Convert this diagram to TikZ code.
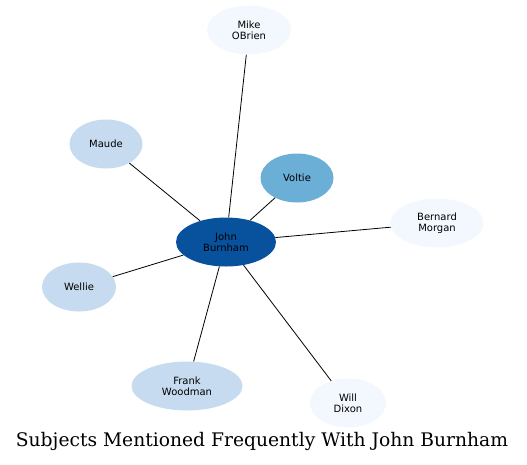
\documentclass[tikz,border=0pt]{standalone}
\usepackage{fontspec}
\setmainfont{DejaVu Serif}
\newfontfamily\namefont{DejaVu Sans}
\usetikzlibrary{shapes.geometric}
\definecolor{bluedark}{HTML}{08519C}
\definecolor{bluemid}{HTML}{6BAED6}
\definecolor{bluelight}{HTML}{C6DBEF}
\definecolor{bluepale}{HTML}{F3F7FE}

\begin{document}
\begin{tikzpicture}[x=1pt,y=-1pt,
    subject/.style={ellipse,draw=none,inner sep=0pt,minimum height=49pt,
      align=center,font=\namefont\fontsize{10}{10.8}\selectfont},
    link/.style={black,line width=0.8pt}]
    \useasboundingbox (0,0) rectangle (527,464);
    % centre and the people around it
    \node[subject,fill=bluedark,minimum width=100pt] (jb) at (226,242) {John\\Burnham};
    \node[subject,fill=bluepale,minimum width=84pt] (mo) at (249,30) {Mike\\OBrien};
    \node[subject,fill=bluelight,minimum width=73pt] (ma) at (106,144) {Maude};
    \node[subject,fill=bluemid,minimum width=73pt] (vo) at (297,178) {Voltie};
    \node[subject,fill=bluepale,minimum width=93pt] (bm) at (437,223) {Bernard\\Morgan};
    \node[subject,fill=bluelight,minimum width=74pt] (we) at (79,287) {Wellie};
    \node[subject,fill=bluelight,minimum width=111pt] (fw) at (187,386) {Frank\\Woodman};
    \node[subject,fill=bluepale,minimum width=76pt] (wd) at (348,403) {Will\\Dixon};
    \foreach \other in {mo,ma,vo,bm,we,fw,wd}
      \draw[link] (jb) -- (\other);
    \node[font=\fontsize{18.7}{20}\selectfont] (title) at (262,441)
      {Subjects Mentioned Frequently With John Burnham};
  \end{tikzpicture}
\end{document}
